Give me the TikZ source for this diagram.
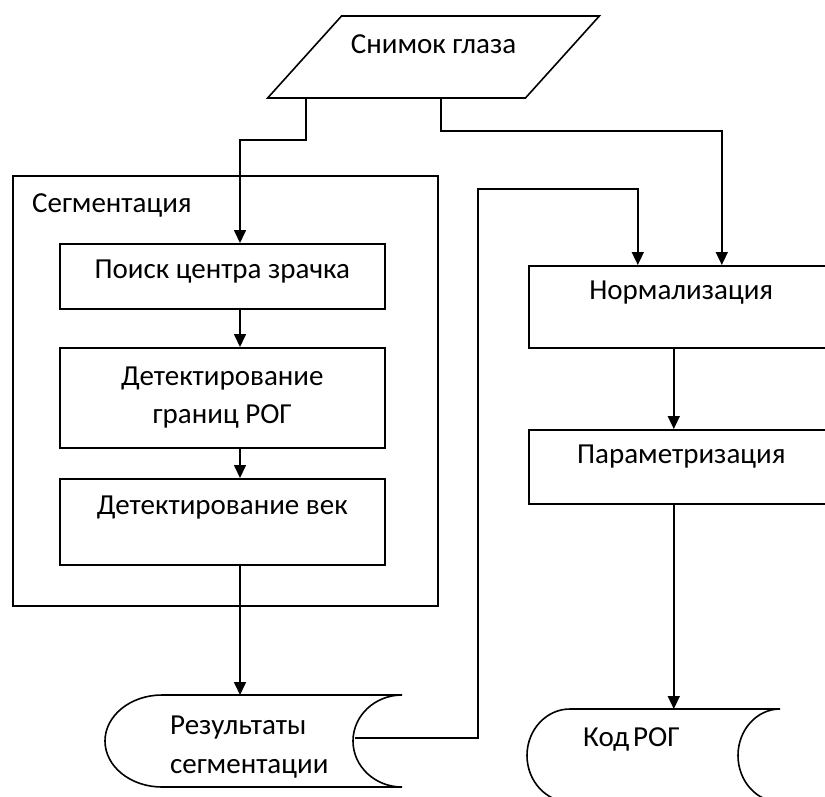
\documentclass[tikz,border=0pt]{standalone}
\usepackage{fontspec}
\setmainfont{Carlito}
\usetikzlibrary{shapes.geometric,arrows.meta,calc}
\begin{document}
\begin{tikzpicture}[x=1pt,y=-1pt,
  every node/.style={font=\fontsize{29}{38}\selectfont},
  line/.style={line width=1.6pt, draw=black},
  arr/.style={line, -{Triangle[width=12pt,length=13pt]}},
  box/.style={draw=black, line width=1.6pt, rectangle, inner sep=0pt, anchor=north west, align=center},
  frame/.style={draw=black, line width=1.6pt, rectangle, inner sep=0pt, anchor=north west},
  datashape/.style={rectangle, inner sep=0pt, anchor=north west, align=left},
]
\useasboundingbox (0,0) rectangle (825,796);
\clip (0,0) rectangle (825,796);

% input parallelogram
\node[draw=black, line width=1.6pt, trapezium, trapezium left angle=51, trapezium right angle=129,
      trapezium stretches=true, minimum width=333pt, minimum height=82pt, inner sep=0pt,
      text height=37pt, text depth=45pt] (inp) at (433.5,57) {Снимок глаза};

% segmentation frame
\node[frame, minimum width=425pt, minimum height=430pt] (seg) at (12,175) {};
\node[anchor=base west, inner sep=0pt] (segl) at (32,212) {Сегментация};

% left column
\node[box, minimum width=325pt, text height=35pt, text depth=30pt] (poisk) at (59,243) {Поиск центра зрачка};
\node[box, minimum width=325pt, minimum height=100pt] (detekt) at (59,347) {Детектирование\\границ РОГ};
\node[box, minimum width=325pt, text height=36pt, text depth=50pt] (vek) at (59,478) {Детектирование век};

% right column
\node[box, minimum width=305pt, text height=34pt, text depth=48pt] (norm) at (528,265) {Нормализация};
\node[box, minimum width=305pt, text height=34pt, text depth=40pt] (param) at (528,429) {Параметризация};

% stored data shapes
\node[datashape, minimum width=297pt, minimum height=104pt, text width=167pt,
      font=\fontsize{29}{39}\selectfont] (rez) at (105,695) {Результаты\\сегментации};
\draw[line] ($(rez.north west)+(57,0)$) -- ($(rez.north west)+(297,0)$)
  arc[start angle=90, end angle=270, x radius=49pt, y radius=46pt]
  -- ($(rez.north west)+(57,92)$)
  arc[start angle=270, end angle=90, x radius=57pt, y radius=46pt] -- cycle;

\node[datashape, minimum width=253pt, text width=141pt, text height=37pt, text depth=56pt] (kod) at (527,709) {Код\hspace{4pt}РОГ};
\draw[line] ($(kod.north west)+(43,0)$) -- ($(kod.north west)+(253,0)$)
  arc[start angle=90, end angle=270, x radius=42pt, y radius=46.5pt]
  -- ($(kod.north west)+(43,93)$)
  arc[start angle=270, end angle=90, x radius=43pt, y radius=46.5pt] -- cycle;

% helper coordinates
\coordinate (cx) at (240,0);
\coordinate (p1) at ($(inp.bottom left corner)!0.154!(inp.bottom right corner)$);
\coordinate (p2) at ($(inp.bottom left corner)!0.673!(inp.bottom right corner)$);
\coordinate (rezout) at ($(rez.north west)+(250,43)$);
\coordinate (up) at (478,189);
\coordinate (px) at ([xshift=-7.5pt]norm.south);

% connectors
\draw[arr] (p1) -- ++(0,41) -| (poisk.north -| cx);
\draw[arr] (p2) -- ++(0,32) -| ([xshift=40.5pt]norm.north);
\draw[arr] (poisk.south -| cx) -- (detekt.north -| cx);
\draw[arr] (detekt.south -| cx) -- (vek.north -| cx);
\draw[arr] (vek.south -| cx) -- (rez.north -| cx);
\draw[arr] (rezout) -| (up) -| ([xshift=-43.5pt]norm.north);
\draw[arr] (px) -- (px |- param.north);
\draw[arr] (px |- param.south) -- (px |- kod.north);
\end{tikzpicture}
\end{document}
